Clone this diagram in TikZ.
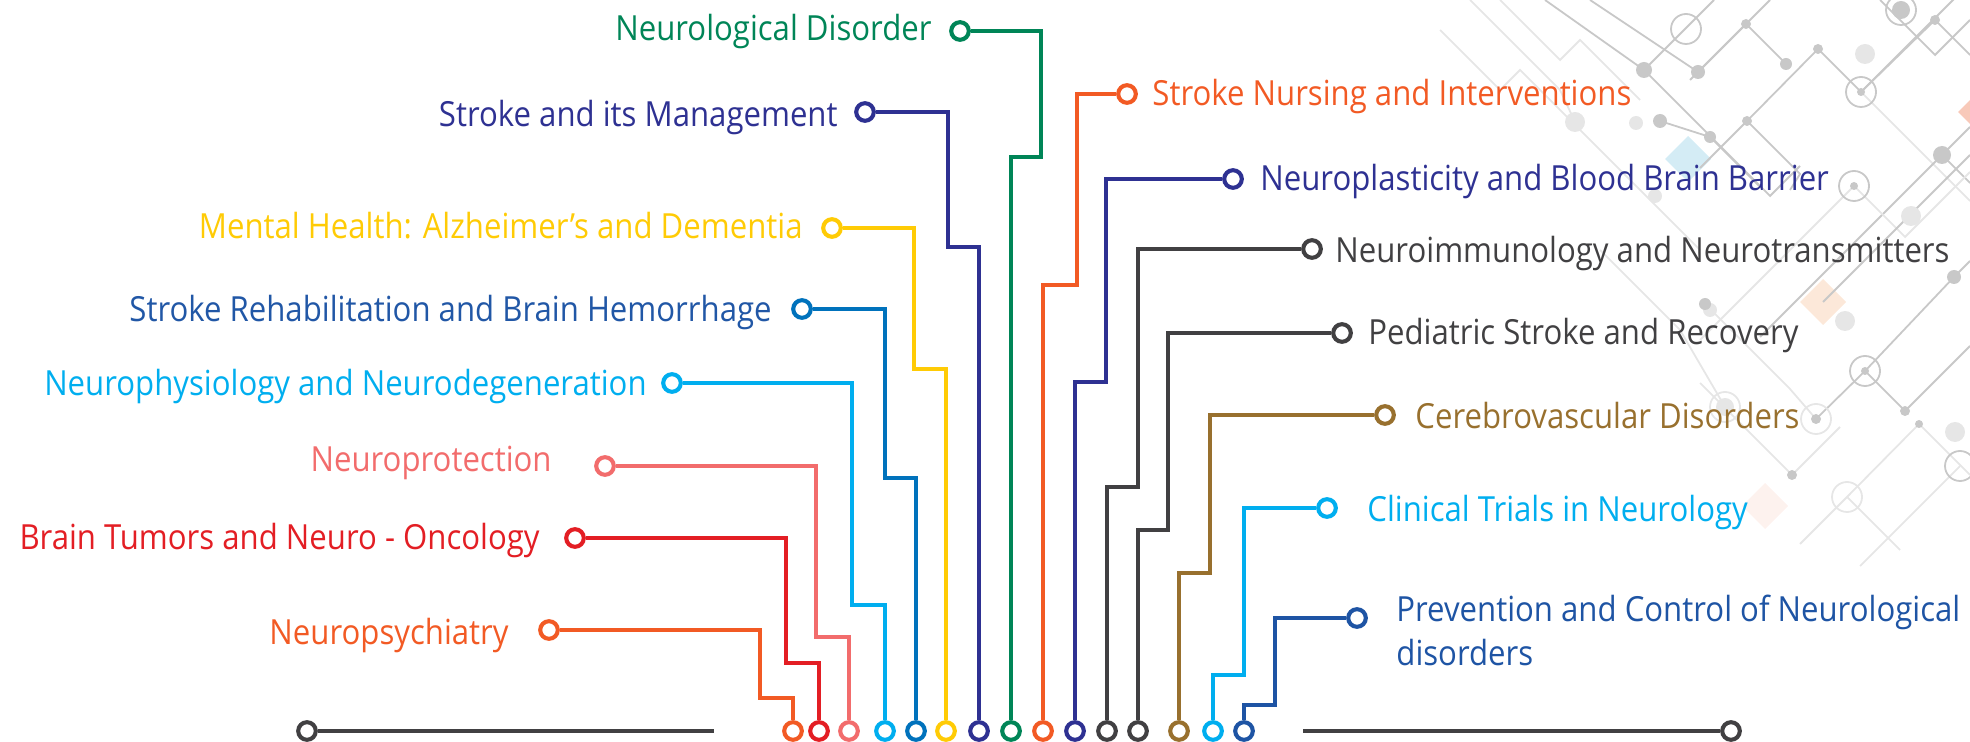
\documentclass[tikz,border=0pt]{standalone}
\usepackage{fontspec}
\setmainfont{Open Sans}
\newfontfamily\lblfont[FakeStretch=0.9]{Open Sans}
\definecolor{cGreen}{RGB}{0,133,87}
\definecolor{cNavy}{RGB}{46,49,146}
\definecolor{cYellow}{RGB}{255,203,5}
\definecolor{cBlue}{RGB}{0,114,188}
\definecolor{cBlueTxt}{RGB}{33,87,166}
\definecolor{cCyan}{RGB}{0,174,239}
\definecolor{cPink}{RGB}{242,108,108}
\definecolor{cRed}{RGB}{227,30,36}
\definecolor{cOrange}{RGB}{242,90,36}
\definecolor{cGray}{RGB}{65,64,66}
\definecolor{cBrown}{RGB}{152,112,46}
\definecolor{cBlueB}{RGB}{30,84,164}
\definecolor{bgLine}{RGB}{200,200,200}
\definecolor{bgLight}{RGB}{230,230,230}
\definecolor{bgBlue}{RGB}{212,236,245}
\definecolor{bgPeach}{RGB}{252,232,217}
\definecolor{bgPeachL}{RGB}{253,242,238}
\definecolor{bgSalmon}{RGB}{248,201,185}
\tikzset{
  wire/.style={line width=2.05pt},
  pin/.style={circle, draw, fill=white, line width=2.05pt, minimum size=8.8pt, inner sep=0pt},
  lbl/.style={font=\lblfont\fontsize{17.3pt}{21pt}\selectfont, inner sep=0pt},
  lblL/.style={lbl, anchor=base east},
  lblR/.style={lbl, anchor=base west},
  bgl/.style={draw=bgLine, line width=0.9pt},
  bgll/.style={draw=bgLight, line width=0.9pt},
  bgdot/.style={fill=bgLine},
  bgdotl/.style={fill=bgLight},
  bgring/.style={draw=bgLine, line width=0.9pt},
  bgringl/.style={draw=bgLight, line width=0.9pt},
}
\begin{document}
\begin{tikzpicture}[x=0.5pt, y=-0.5pt]
\useasboundingbox (0,0) rectangle (1970,742);
% ---------- faint background circuit pattern ----------
\begin{scope}
\clip (0,0) rectangle (1970,742);
\fill[bgBlue] (1688,136) -- (1711,159) -- (1688,182) -- (1665,159) -- cycle;
\fill[bgPeach] (1823,279) -- (1846,302) -- (1823,325) -- (1800,302) -- cycle;
\fill[bgPeachL] (1765,483) -- (1788,506) -- (1765,529) -- (1742,506) -- cycle;
\fill[bgSalmon] (1978,92) -- (1998,112) -- (1978,132) -- (1958,112) -- cycle;
\draw[bgll] (1440,30) -- (1500,90) -- (1520,70) -- (1650,200) -- (1700,250);
\draw[bgll] (1470,0) -- (1560,90) -- (1575,122);
\draw[bgll] (1500,0) -- (1560,60) -- (1580,40) -- (1640,100);
\draw[bgl] (1545,0) -- (1644,70) -- (1770,196) -- (1800,166);
\draw[bgl] (1590,0) -- (1698,72);
\draw[bgl] (1644,70) -- (1714,0);
\draw[bgl] (1698,72) -- (1770,0);
\draw[bgl] (1746,24) -- (1786,64);
\draw[bgl] (1746,24) -- (1690,80);
\draw[bgl] (1818,49) -- (1747,121) -- (1700,168);
\draw[bgl] (1818,49) -- (1861,92) -- (1935,20) -- (1970,55);
\draw[bgl] (1861,92) -- (1970,-17);
\draw[bgl] (1880,0) -- (1935,55) -- (1970,20);
\draw[bgll] (1861,92) -- (1970,201);
\draw[bgl] (1660,121) -- (1710,137) -- (1760,187);
\draw[bgl] (1747,121) -- (1800,174) -- (1790,190);
\draw[bgl] (1942,155) -- (1970,183);
\draw[bgl] (1970,127) -- (1942,155) -- (1850,247) -- (1800,297) -- (1760,337);
\draw[bgll] (1854,186) -- (1780,260) -- (1700,340);
\draw[bgll] (1854,186) -- (1905,237) -- (1970,172);
\draw[bgl] (1823,302) -- (1910,215) -- (1970,155);
\draw[bgll] (1705,304) -- (1790,389) -- (1816,419);
\draw[bgl] (1816,419) -- (1865,371) -- (1905,411) -- (1920,396) -- (1970,346);
\draw[bgl] (1865,371) -- (1954,277) -- (1970,261);
\draw[bgll] (1919,424) -- (1970,475);
\draw[bgll] (1919,424) -- (1847,497) -- (1800,544);
\draw[bgll] (1792,475) -- (1760,443) -- (1700,383);
\draw[bgll] (1792,475) -- (1840,427);
\draw[bgll] (1960,466) -- (1900,526) -- (1860,566);
\draw[bgll] (1600,250) -- (1680,330) -- (1725,407);
\draw[bgll] (1847,497) -- (1900,550);
\fill[bgdotl] (1575,122) circle (10);
\fill[bgdotl] (1636,123) circle (7);
\fill[bgdotl] (1865,54) circle (10);
\fill[bgdotl] (1911,216) circle (10);
\fill[bgdotl] (1655,196) circle (7);
\fill[bgdotl] (1845,321) circle (10);
\fill[bgdotl] (1955,432) circle (10);
\fill[bgdotl] (1710,310) circle (7);
\fill[bgdotl] (1725,407) circle (9);
\fill[bgdot] (1644,70) circle (8);
\fill[bgdot] (1698,72) circle (7);
\fill[bgdot] (1746,24) circle (5);
\fill[bgdot] (1786,64) circle (6);
\fill[bgdot] (1818,49) circle (5);
\fill[bgdot] (1935,20) circle (5);
\fill[bgdot] (1660,121) circle (7);
\fill[bgdot] (1710,137) circle (6);
\fill[bgdot] (1747,121) circle (5);
\fill[bgdot] (1942,155) circle (9);
\fill[bgdot] (1705,304) circle (6);
\fill[bgdot] (1954,277) circle (7);
\fill[bgdot] (1905,411) circle (5);
\fill[bgdot] (1919,424) circle (4);
\fill[bgdot] (1792,475) circle (5);
\fill[bgdot] (1901,10) circle (9);
\fill[bgdot] (1861,92) circle (4);
\fill[bgdot] (1854,186) circle (4);
\fill[bgdot] (1865,371) circle (4);
\fill[bgdot] (1816,419) circle (5);
\draw[bgring] (1686,29) circle (15);
\draw[bgring] (1901,10) circle (15);
\draw[bgring] (1861,92) circle (15);
\draw[bgring] (1854,186) circle (15);
\draw[bgring] (1865,371) circle (15);
\draw[bgringl] (1816,419) circle (15);
\draw[bgringl] (1725,407) circle (15);
\draw[bgringl] (1847,497) circle (15);
\draw[bgring] (1960,466) circle (15);
\end{scope}
% ---------- label pins ----------
\node[pin, draw=cGreen]  (p1) at (960,31) {};
\node[pin, draw=cNavy]   (p2) at (865,112) {};
\node[pin, draw=cYellow] (p3) at (832,228) {};
\node[pin, draw=cBlue]   (p4) at (802,309) {};
\node[pin, draw=cCyan]   (p5) at (672,383) {};
\node[pin, draw=cPink]   (p6) at (605,466) {};
\node[pin, draw=cRed]    (p7) at (575,538) {};
\node[pin, draw=cOrange] (p8) at (549,630) {};
\node[pin, draw=cOrange] (p9) at (1127,94) {};
\node[pin, draw=cNavy]   (p10) at (1233,179) {};
\node[pin, draw=cGray]   (p11) at (1312,249) {};
\node[pin, draw=cGray]   (p12) at (1342,333) {};
\node[pin, draw=cBrown]  (p13) at (1385,415) {};
\node[pin, draw=cCyan]   (p14) at (1327,508) {};
\node[pin, draw=cBlueB]  (p15) at (1357,618) {};
% ---------- bottom pins ----------
\node[pin, draw=cOrange] (b8) at (793,731) {};
\node[pin, draw=cRed]    (b7) at (819,731) {};
\node[pin, draw=cPink]   (b6) at (849,731) {};
\node[pin, draw=cCyan]   (b5) at (885,731) {};
\node[pin, draw=cBlue]   (b4) at (916,731) {};
\node[pin, draw=cYellow] (b3) at (946,731) {};
\node[pin, draw=cNavy]   (b2) at (979,731) {};
\node[pin, draw=cGreen]  (b1) at (1011,731) {};
\node[pin, draw=cOrange] (b9) at (1043,731) {};
\node[pin, draw=cNavy]   (b10) at (1075,731) {};
\node[pin, draw=cGray]   (b11) at (1107,731) {};
\node[pin, draw=cGray]   (b12) at (1138,731) {};
\node[pin, draw=cBrown]  (b13) at (1179,731) {};
\node[pin, draw=cCyan]   (b14) at (1213,731) {};
\node[pin, draw=cBlueB]  (b15) at (1244,731) {};
\node[pin, draw=cGray]   (eL) at (307,731) {};
\node[pin, draw=cGray]   (eR) at (1731,731) {};
\coordinate (eLend) at (714,731);
\coordinate (eRend) at (1303,731);
% ---------- connectors ----------
\draw[wire, cGreen]  (p1.east) -- (1041,31) -- (1041,157) -- (1011,157) -- (b1.north);
\draw[wire, cNavy]   (p2.east) -- (948,112) -- (948,247) -- (979,247) -- (b2.north);
\draw[wire, cYellow] (p3.east) -- (914,228) -- (914,369) -- (946,369) -- (b3.north);
\draw[wire, cBlue]   (p4.east) -- (885,309) -- (885,478) -- (916,478) -- (b4.north);
\draw[wire, cCyan]   (p5.east) -- (852,383) -- (852,605) -- (885,605) -- (b5.north);
\draw[wire, cPink]   (p6.east) -- (816,466) -- (816,637) -- (849,637) -- (b6.north);
\draw[wire, cRed]    (p7.east) -- (786,538) -- (786,663) -- (819,663) -- (b7.north);
\draw[wire, cOrange] (p8.east) -- (760,630) -- (760,698) -- (793,698) -- (b8.north);
\draw[wire, cOrange] (p9.west) -- (1077,94) -- (1077,285) -- (1043,285) -- (b9.north);
\draw[wire, cNavy]   (p10.west) -- (1106,179) -- (1106,382) -- (1075,382) -- (b10.north);
\draw[wire, cGray]   (p11.west) -- (1138,249) -- (1138,487) -- (1107,487) -- (b11.north);
\draw[wire, cGray]   (p12.west) -- (1168,333) -- (1168,530) -- (1138,530) -- (b12.north);
\draw[wire, cBrown]  (p13.west) -- (1210,415) -- (1210,573) -- (1179,573) -- (b13.north);
\draw[wire, cCyan]   (p14.west) -- (1244,508) -- (1244,675) -- (1213,675) -- (b14.north);
\draw[wire, cBlueB]  (p15.west) -- (1275,618) -- (1275,705) -- (1244,705) -- (b15.north);
\draw[wire, cGray] (eL.east) -- (eLend);
\draw[wire, cGray] (eRend) -- (eR.west);
% ---------- labels ----------
\node[lblL, text=cGreen]   (t1) at (932,41)  {Neurological Disorder};
\node[lblL, text=cNavy]    (t2) at (838,127) {Stroke and its Management};
\node[lblL, text=cYellow]  (t3) at (803,239) {Mental Health: Alzheimer’s and Dementia};
\node[lblL, text=cBlueTxt] (t4) at (772,322) {Stroke Rehabilitation and Brain Hemorrhage};
\node[lblL, text=cCyan]    (t5) at (647,396) {Neurophysiology and Neurodegeneration};
\node[lblL, text=cPink]    (t6) at (552,472) {Neuroprotection};
\node[lblL, text=cRed]     (t7) at (540,550) {Brain Tumors and Neuro - Oncology};
\node[lblL, text=cOrange]  (t8) at (509,644) {Neuropsychiatry};
\node[lblR, text=cOrange]  (t9) at (1152,106) {Stroke Nursing and Interventions};
\node[lblR, text=cNavy]    (t10) at (1260,191) {Neuroplasticity and Blood Brain Barrier};
\node[lblR, text=cGray]    (t11) at (1335,263) {Neuroimmunology and Neurotransmitters};
\node[lblR, text=cGray]    (t12) at (1368,345) {Pediatric Stroke and Recovery};
\node[lblR, text=cBrown]   (t13) at (1415,429) {Cerebrovascular Disorders};
\node[lblR, text=cCyan]    (t14) at (1367,522) {Clinical Trials in Neurology};
\node[lblR, text=cBlueB]   (t15) at (1396,622) {Prevention and Control of Neurological};
\node[lblR, text=cBlueB]   (t15b) at (1396,665) {disorders};
\end{tikzpicture}
\end{document}
